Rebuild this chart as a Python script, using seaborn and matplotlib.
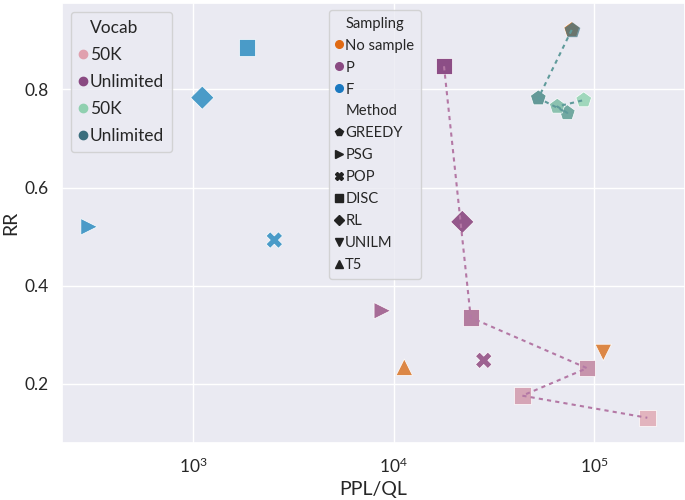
import numpy as np
import pandas as pd
import matplotlib
matplotlib.use("Agg")
import matplotlib.pyplot as plt
import seaborn as sns
from matplotlib.lines import Line2D
from matplotlib.colors import LinearSegmentedColormap

# ---------------- data ----------------
method = ["PSG", "DISC", "RL", "POP",
          "T5", "UNILM", "GREEDY",
          "PSG", "POP", "RL",
          "DISC", "DISC", "DISC", "DISC", "DISC",
          "GREEDY", "GREEDY", "GREEDY", "GREEDY", "GREEDY"]
sampling = ["F", "F", "F", "F",
            "No sample", "No sample", "No sample",
            "P", "P", "P",
            "P", "P", "P", "P", "P",
            "Greedy", "Greedy", "Greedy", "Greedy", "Greedy"]
ppl = [303, 1859, 1112, 2544,
       11320, 111300, 77400,
       8790, 28180, 22030,
       17860, 24270, 92300, 43890, 184500,
       77400, 52760, 73590, 65610, 88860]
rr = [0.520, 0.885, 0.783, 0.493,
      0.234, 0.264, 0.921,
      0.349, 0.248, 0.530,
      0.847, 0.335, 0.232, 0.176, 0.131,
      0.921, 0.782, 0.752, 0.765, 0.778]
# position between "Unlimited" (0) and "50K" (1) vocabulary, read from shade
vocab_t = [np.nan, np.nan, np.nan, np.nan,
           np.nan, np.nan, np.nan,
           0.30, 0.20, 0.10,
           0.0, 0.45, 0.68, 0.85, 1.0,
           0.0, 0.40, 0.55, 0.80, 1.0]
chain = ["", "", "", "",
         "", "", "",
         "", "", "",
         "P-DISC", "P-DISC", "P-DISC", "P-DISC", "P-DISC",
         "GREEDY", "GREEDY", "GREEDY", "GREEDY", "GREEDY"]

vocab_labels = ["50K", "Unlimited", "50K", "Unlimited"]
sampling_labels = ["No sample", "P", "F"]
method_labels = ["GREEDY", "PSG", "POP", "DISC", "RL", "UNILM", "T5"]

df = pd.DataFrame({"method": method, "sampling": sampling, "ppl": ppl,
                   "rr": rr, "vocab_t": vocab_t, "chain": chain})

# ---------------- styles ----------------
markers = {"GREEDY": "p", "PSG": ">", "POP": "X", "DISC": "s",
           "RL": "D", "UNILM": "v", "T5": "^"}
c_orange_pt = "#dc8746"
c_blue_pt = "#4a9bc8"
purple_cmap = LinearSegmentedColormap.from_list("pur", ["#8c4e86", "#e2b4be"])
green_cmap = LinearSegmentedColormap.from_list("grn", ["#3a7080", "#a0d7bc"])
leg_vocab_colors = ["#e0a0ae", "#8a4a82", "#90d0b0", "#3b6e7d"]
leg_sampling_colors = ["#e06a14", "#8a4a82", "#1a78c0"]

sns.set_theme(style="darkgrid")
plt.rcParams['font.family'] = ['Lato', 'DejaVu Sans']
plt.rcParams['mathtext.fontset'] = 'custom'
plt.rcParams['mathtext.rm'] = 'Lato'
plt.rcParams['mathtext.it'] = 'Lato:italic'
plt.rcParams['mathtext.bf'] = 'Lato:bold'


def point_color(row):
    if row.sampling == "F":
        return c_blue_pt
    if row.sampling == "No sample":
        return c_orange_pt
    if row.sampling == "P":
        return purple_cmap(row.vocab_t)
    return green_cmap(row.vocab_t)


df["key"] = [str(i) for i in range(len(df))]
palette = {k: point_color(r) for k, r in zip(df["key"], df.itertuples())}

fig = plt.figure(figsize=(6.85, 5.0), dpi=100)
ax = fig.add_axes([62 / 685, 1 - 443 / 500, 623 / 685, 440 / 500])

# overlapping top greedy point is translucent over the no-sample one
top_mask = (df["chain"] == "GREEDY") & (df["vocab_t"] == 0.0)
base = df[~top_mask]
sns.scatterplot(data=base, x="ppl", y="rr", hue="key", style="method",
                palette=palette, markers=markers, s=140, linewidth=0.5,
                edgecolor="white", legend=False, ax=ax)
sns.scatterplot(data=df[top_mask], x="ppl", y="rr", hue="key", style="method",
                palette=palette, markers=markers, s=140, linewidth=0,
                alpha=0.7, legend=False, ax=ax)

line_colors = {"P-DISC": "#b478a5", "GREEDY": "#5f9b9b"}
for name, col in line_colors.items():
    sub = df[df["chain"] == name]
    sns.lineplot(data=sub, x="ppl", y="rr", sort=False, estimator=None,
                 color=col, linewidth=1.5, ax=ax)
for ln in ax.get_lines():
    ln.set_linestyle((0, (2, 2)))
    ln.set_zorder(3)

ax.set_xscale("log")
ax.set_xlim(222, 284400)
ax.set_ylim(0.0796, 0.9758)
ax.set_yticks([0.2, 0.4, 0.6, 0.8])
ax.set_yticklabels(["0.2", "0.4", "0.6", "0.8"])
ax.tick_params(axis="both", labelsize=12.5)
ax.set_xlabel("PPL/QL", fontsize=14)
ax.set_ylabel("RR", fontsize=14)

# ---------------- legends ----------------
def blank():
    return Line2D([], [], linestyle="", marker=None)

h1 = [blank()] + [Line2D([], [], linestyle="", marker="o", markersize=6,
                         color=c) for c in leg_vocab_colors]
l1 = ["Vocab"] + vocab_labels
leg1 = ax.legend(h1, l1, loc="upper left", bbox_to_anchor=(0.0144, 0.9795),
                 borderaxespad=0, handlelength=0.5, handletextpad=0.15,
                 labelspacing=0.64, fontsize=12.5, borderpad=0.45)
ax.add_artist(leg1)

h2 = ([blank()] +
      [Line2D([], [], linestyle="", marker="o", markersize=5.5, color=c)
       for c in leg_sampling_colors] +
      [blank()] +
      [Line2D([], [], linestyle="", marker=markers[m], markersize=5.5,
              color="#222222") for m in method_labels])
l2 = ["Sampling"] + sampling_labels + ["Method"] + method_labels
ax.legend(h2, l2, loc="upper left", bbox_to_anchor=(0.4286, 0.984),
          borderaxespad=0, handlelength=0.5, handletextpad=0.15,
          labelspacing=0.54, fontsize=10.6, borderpad=0.45)

fig.savefig("out.png", dpi=100)
